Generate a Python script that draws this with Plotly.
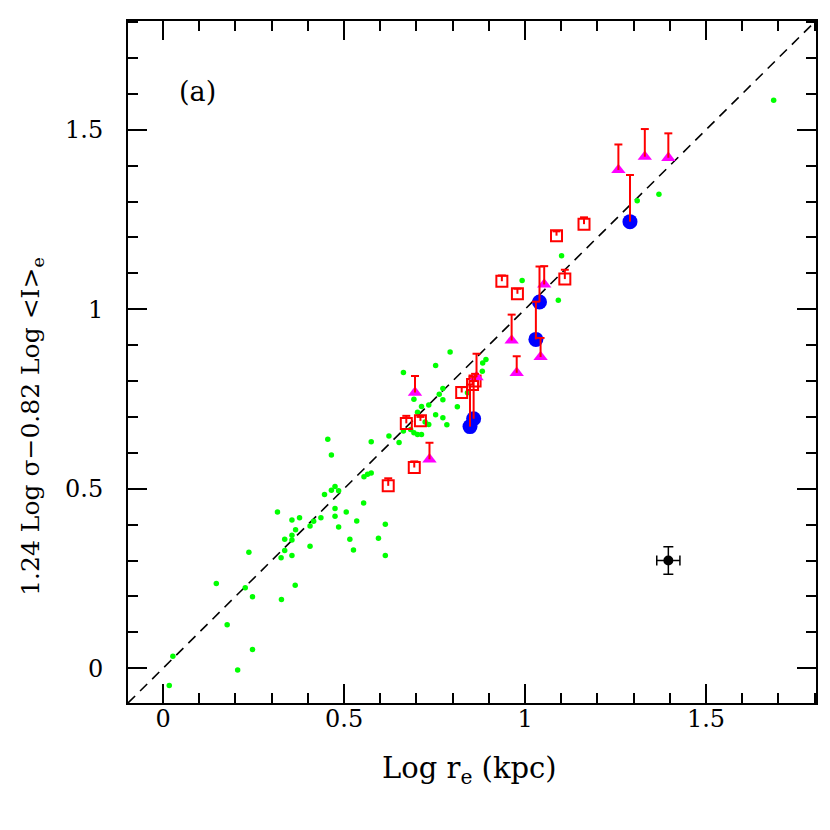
import plotly.graph_objects as go

# ---- data ----
green_x = [0.017, 0.027, 0.147, 0.227, 0.247, 0.327, 0.177, 0.247, 0.206, 0.455,
           0.465, 0.575, 0.624, 0.652, 0.575, 0.565, 0.555, 0.475, 0.465, 0.485,
           0.446, 0.316, 0.356, 0.377, 0.366, 0.356, 0.336, 0.356, 0.336, 0.326,
           0.356, 0.237, 0.406, 0.406, 0.416, 0.436, 0.475, 0.475, 0.506, 0.485,
           0.535, 0.554, 0.516, 0.526, 0.614, 0.595, 0.614, 0.365, 0.793, 0.753,
           0.664, 0.773, 0.763, 0.773, 0.734, 0.714, 0.693, 0.813, 0.753, 0.773,
           0.784, 0.703, 0.724, 0.734, 0.684, 0.664, 0.693, 0.703, 0.714, 0.883,
           0.892, 0.882, 0.841, 1.101, 0.992, 1.092, 1.687, 1.370, 1.310]
green_y = [-0.048, 0.033, 0.236, 0.224, 0.199, 0.191, 0.121, 0.052, -0.005, 0.638,
           0.594, 0.631, 0.647, 0.629, 0.544, 0.540, 0.533, 0.506, 0.496, 0.494,
           0.484, 0.435, 0.413, 0.419, 0.386, 0.370, 0.359, 0.357, 0.328, 0.308,
           0.314, 0.323, 0.340, 0.396, 0.409, 0.419, 0.445, 0.423, 0.435, 0.393,
           0.410, 0.460, 0.359, 0.329, 0.401, 0.362, 0.314, 0.231, 0.881, 0.843,
           0.824, 0.779, 0.763, 0.748, 0.733, 0.729, 0.749, 0.728, 0.706, 0.698,
           0.678, 0.713, 0.686, 0.679, 0.665, 0.661, 0.656, 0.651, 0.651, 0.850,
           0.860, 0.827, 0.767, 1.149, 1.080, 1.025, 1.582, 1.320, 1.302]

square_x = [0.622, 0.694, 0.672, 0.711, 0.825, 0.855, 0.862, 0.936, 0.979, 1.087, 1.110, 1.163]
square_y = [0.508, 0.559, 0.682, 0.689, 0.768, 0.790, 0.800, 1.078, 1.043, 1.205, 1.084, 1.237]
square_err = [0.021, 0.017, 0.021, 0.011, 0.015, 0.022, 0.020, 0.016, 0.014, 0.012, 0.026, 0.019]

tri_x = [0.696, 0.736, 0.866, 0.963, 0.977, 1.043, 1.053, 1.258, 1.331, 1.396]
tri_y = [0.768, 0.582, 0.811, 0.913, 0.823, 0.867, 1.069, 1.388, 1.425, 1.422]
tri_err = [0.046, 0.046, 0.065, 0.072, 0.046, 0.053, 0.051, 0.071, 0.077, 0.068]

blue_x = [0.848, 0.858, 1.030, 1.040, 1.290]
blue_y = [0.673, 0.695, 0.916, 1.020, 1.244]
blue_err = [0.117, 0.105, 0.105, 0.099, 0.130]

ref_x = [1.396]
ref_y = [0.300]
ref_xerr = [0.032]
ref_yerr = [0.038]

x_range = [-0.097, 1.804]
y_range = [-0.097, 1.803]


def upper_err_lines(xs, ys, es, capw=0.011):
    lx, ly = [], []
    for x, y, e in zip(xs, ys, es):
        lx += [x, x, None, x - capw, x + capw, None]
        ly += [y, y + e, None, y + e, y + e, None]
    return lx, ly


fig = go.Figure()

# y = x dashed line
fig.add_trace(go.Scatter(x=x_range, y=x_range, mode="lines",
                         line=dict(color="black", width=1.6, dash="10px,7px"),
                         hoverinfo="skip", showlegend=False))

fig.add_trace(go.Scatter(x=green_x, y=green_y, mode="markers",
                         marker=dict(color="#00ff00", size=5.5, line=dict(width=0)),
                         showlegend=False))

fig.add_trace(go.Scatter(x=square_x, y=square_y, mode="markers",
                         marker=dict(symbol="square-open", color="#ff0000", size=11,
                                     line=dict(color="#ff0000", width=2)),
                         showlegend=False))

fig.add_trace(go.Scatter(x=tri_x, y=tri_y, mode="markers",
                         marker=dict(symbol="triangle-up", color="#ff00ff", size=12.5,
                                     line=dict(width=0)),
                         showlegend=False))

fig.add_trace(go.Scatter(x=blue_x, y=blue_y, mode="markers",
                         marker=dict(color="#0000ff", size=15, line=dict(width=0)),
                         showlegend=False))

ex, ey = [], []
for xs, ys, es in [(square_x, square_y, square_err), (tri_x, tri_y, tri_err),
                   (blue_x, blue_y, blue_err)]:
    a, b = upper_err_lines(xs, ys, es)
    ex += a
    ey += b
fig.add_trace(go.Scatter(x=ex, y=ey, mode="lines",
                         line=dict(color="#ff0000", width=2),
                         hoverinfo="skip", showlegend=False))

fig.add_trace(go.Scatter(x=ref_x, y=ref_y, mode="markers",
                         marker=dict(color="black", size=10),
                         error_x=dict(type="data", array=ref_xerr, color="black",
                                      thickness=1.5, width=5),
                         error_y=dict(type="data", array=ref_yerr, color="black",
                                      thickness=1.5, width=5),
                         showlegend=False))

font_tick = dict(family="DejaVu Serif", size=24, color="black")
font_xt = dict(family="DejaVu Serif", size=29, color="black")
font_yt = dict(family="DejaVu Serif", size=25, color="black")
font_lab = dict(family="DejaVu Serif", size=27, color="black")

axis_common = dict(
    showgrid=False, zeroline=False, showline=True, linecolor="black", linewidth=2,
    mirror="ticks", ticks="inside", ticklen=19, tickwidth=1.5, tickcolor="black",
    tick0=0, dtick=0.5, tickfont=font_tick,
    minor=dict(dtick=0.1, tick0=0, ticks="inside", ticklen=10, tickwidth=1.5,
               tickcolor="black", showgrid=False),
)

fig.update_xaxes(range=x_range, ticklabelstandoff=-7, **axis_common)
fig.update_yaxes(range=y_range, ticklabelstandoff=18, **axis_common)

fig.add_annotation(text="(a)", x=0.094, y=1.606, xref="x", yref="y",
                   showarrow=False, font=font_lab)
fig.add_annotation(text="Log r<sub>e</sub> (kpc)", x=0.497, y=-0.098,
                   xref="paper", yref="paper", xanchor="center", yanchor="middle",
                   showarrow=False, font=font_xt)
fig.add_annotation(text="1.24 Log σ−0.82 Log &lt;I&gt;<sub>e</sub>", x=-0.1395, y=0.405,
                   xref="paper", yref="paper", xanchor="center", yanchor="middle",
                   textangle=-90, showarrow=False, font=font_yt)

fig.update_layout(
    width=822, height=822, autosize=False,
    margin=dict(l=120, r=14, t=11, b=127),
    plot_bgcolor="white", paper_bgcolor="white",
    showlegend=False,
)

fig.write_html("out.html")
